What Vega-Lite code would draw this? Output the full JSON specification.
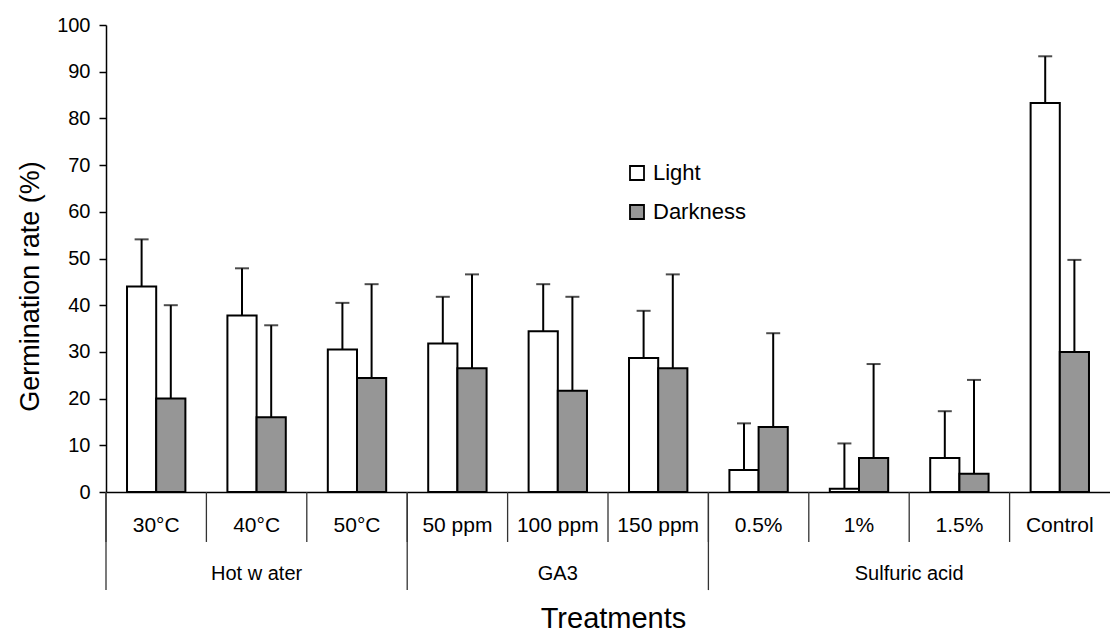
{
  "$schema": "https://vega.github.io/schema/vega-lite/v6.json",
  "width": 1004,
  "height": 467,
  "autosize": {"type": "none"},
  "padding": {"left": 106, "top": 25, "right": 0, "bottom": 143},
  "background": "white",
  "config": {"view": {"stroke": null}, "font": "Liberation Sans"},
  "datasets": {
    "bars": [
      {"treatment": "30°C", "condition": "Light", "value": 44.0, "upper": 54.1},
      {"treatment": "30°C", "condition": "Darkness", "value": 20.0, "upper": 40.0},
      {"treatment": "40°C", "condition": "Light", "value": 37.8, "upper": 47.9},
      {"treatment": "40°C", "condition": "Darkness", "value": 16.0, "upper": 35.7},
      {"treatment": "50°C", "condition": "Light", "value": 30.5, "upper": 40.5},
      {"treatment": "50°C", "condition": "Darkness", "value": 24.4, "upper": 44.5},
      {"treatment": "50 ppm", "condition": "Light", "value": 31.8, "upper": 41.8},
      {"treatment": "50 ppm", "condition": "Darkness", "value": 26.5, "upper": 46.6},
      {"treatment": "100 ppm", "condition": "Light", "value": 34.4, "upper": 44.5},
      {"treatment": "100 ppm", "condition": "Darkness", "value": 21.7, "upper": 41.8},
      {"treatment": "150 ppm", "condition": "Light", "value": 28.7, "upper": 38.8},
      {"treatment": "150 ppm", "condition": "Darkness", "value": 26.5, "upper": 46.6},
      {"treatment": "0.5%", "condition": "Light", "value": 4.7, "upper": 14.7},
      {"treatment": "0.5%", "condition": "Darkness", "value": 13.9, "upper": 34.0},
      {"treatment": "1%", "condition": "Light", "value": 0.7, "upper": 10.4},
      {"treatment": "1%", "condition": "Darkness", "value": 7.3, "upper": 27.4},
      {"treatment": "1.5%", "condition": "Light", "value": 7.3, "upper": 17.3},
      {"treatment": "1.5%", "condition": "Darkness", "value": 3.9, "upper": 24.0},
      {"treatment": "Control", "condition": "Light", "value": 83.3, "upper": 93.3},
      {"treatment": "Control", "condition": "Darkness", "value": 30.0, "upper": 49.7}
    ],
    "cats": [
      {"treatment": "30°C"}, {"treatment": "40°C"}, {"treatment": "50°C"},
      {"treatment": "50 ppm"}, {"treatment": "100 ppm"}, {"treatment": "150 ppm"},
      {"treatment": "0.5%"}, {"treatment": "1%"}, {"treatment": "1.5%"}, {"treatment": "Control"}
    ],
    "groupStarts": [
      {"treatment": "30°C"}, {"treatment": "50 ppm"}, {"treatment": "0.5%"}
    ],
    "groupCentered": [
      {"treatment": "40°C", "label": "Hot w ater"},
      {"treatment": "100 ppm", "label": "GA3"}
    ],
    "groupEdge": [
      {"treatment": "1.5%", "label": "Sulfuric acid"}
    ]
  },
  "layer": [
    {
      "data": {"name": "bars"},
      "mark": {"type": "bar", "stroke": "black", "strokeWidth": 2},
      "encoding": {
        "x": {
          "field": "treatment", "type": "nominal", "title": "Treatments",
          "sort": ["30°C", "40°C", "50°C", "50 ppm", "100 ppm", "150 ppm", "0.5%", "1%", "1.5%", "Control"],
          "scale": {"domain": ["30°C", "40°C", "50°C", "50 ppm", "100 ppm", "150 ppm", "0.5%", "1%", "1.5%", "Control"], "paddingInner": 0, "paddingOuter": 0},
          "axis": {
            "domainColor": "black", "domainWidth": 1.5, "ticks": false, "tickSize": 0,
            "labelFontSize": 21, "labelColor": "black", "labelFont": "Liberation Sans",
            "labelPadding": 39.7, "labelBaseline": "alphabetic", "labelAngle": 0,
            "titleFontSize": 29, "titleFontWeight": "normal", "titleColor": "black", "titleFont": "Liberation Sans",
            "titleX": 507, "titleY": 135, "titleBaseline": "alphabetic", "titleAlign": "center"
          }
        },
        "xOffset": {
          "field": "condition", "type": "nominal",
          "scale": {"domain": ["Light", "Darkness"], "paddingInner": 0, "paddingOuter": 0.72}
        },
        "y": {
          "field": "value", "type": "quantitative", "title": "Germination rate (%)",
          "scale": {"domain": [0, 100], "nice": false, "zero": true},
          "axis": {
            "values": [0, 10, 20, 30, 40, 50, 60, 70, 80, 90, 100],
            "grid": false, "tickSize": 7, "tickWidth": 1.5, "tickColor": "black",
            "domainColor": "black", "domainWidth": 1.5,
            "labelFontSize": 20, "labelColor": "black", "labelFont": "Liberation Sans", "labelPadding": 9,
            "titleFontSize": 27, "titleFontWeight": "normal", "titleColor": "black", "titleFont": "Liberation Sans",
            "titleX": -68, "titleY": 261, "titleBaseline": "alphabetic", "titleAngle": -90, "titleAlign": "center"
          }
        },
        "color": {
          "field": "condition", "type": "nominal",
          "scale": {"domain": ["Light", "Darkness"], "range": ["#ffffff", "#969696"]},
          "legend": {
            "orient": "none", "legendX": 520, "legendY": 137, "title": null,
            "symbolType": "square", "symbolSize": 196, "symbolStrokeColor": "black", "symbolStrokeWidth": 1.8,
            "labelFontSize": 22, "labelColor": "black", "labelFont": "Liberation Sans",
            "labelOffset": 5, "rowPadding": 17, "padding": 0
          }
        }
      }
    },
    {
      "data": {"name": "bars"},
      "mark": {"type": "rule", "color": "black", "strokeWidth": 2},
      "encoding": {
        "x": {"field": "treatment", "type": "nominal", "title": "Treatments"},
        "xOffset": {"field": "condition", "type": "nominal"},
        "y": {"field": "value", "type": "quantitative", "title": "Germination rate (%)"},
        "y2": {"field": "upper"}
      }
    },
    {
      "data": {"name": "bars"},
      "mark": {"type": "tick", "color": "black", "thickness": 2, "size": 14, "orient": "horizontal"},
      "encoding": {
        "x": {"field": "treatment", "type": "nominal", "title": "Treatments"},
        "xOffset": {"field": "condition", "type": "nominal"},
        "y": {"field": "upper", "type": "quantitative", "title": "Germination rate (%)"}
      }
    },
    {
      "data": {"name": "cats"},
      "mark": {"type": "rule", "color": "#333333", "strokeWidth": 1.3},
      "encoding": {
        "x": {"field": "treatment", "type": "nominal", "title": "Treatments", "bandPosition": 0},
        "y": {"datum": 0},
        "y2": {"datum": -10.7}
      }
    },
    {
      "data": {"name": "groupStarts"},
      "mark": {"type": "rule", "color": "#333333", "strokeWidth": 1.3},
      "encoding": {
        "x": {"field": "treatment", "type": "nominal", "title": "Treatments", "bandPosition": 0},
        "y": {"datum": 0},
        "y2": {"datum": -21}
      }
    },
    {
      "data": {"name": "groupCentered"},
      "mark": {"type": "text", "fontSize": 20, "font": "Liberation Sans", "color": "black", "baseline": "alphabetic", "align": "center"},
      "encoding": {
        "x": {"field": "treatment", "type": "nominal", "title": "Treatments", "bandPosition": 0.5},
        "y": {"datum": -18.84},
        "text": {"field": "label"}
      }
    },
    {
      "data": {"name": "groupEdge"},
      "mark": {"type": "text", "fontSize": 20, "font": "Liberation Sans", "color": "black", "baseline": "alphabetic", "align": "center"},
      "encoding": {
        "x": {"field": "treatment", "type": "nominal", "title": "Treatments", "bandPosition": 0},
        "y": {"datum": -18.84},
        "text": {"field": "label"}
      }
    }
  ]
}
